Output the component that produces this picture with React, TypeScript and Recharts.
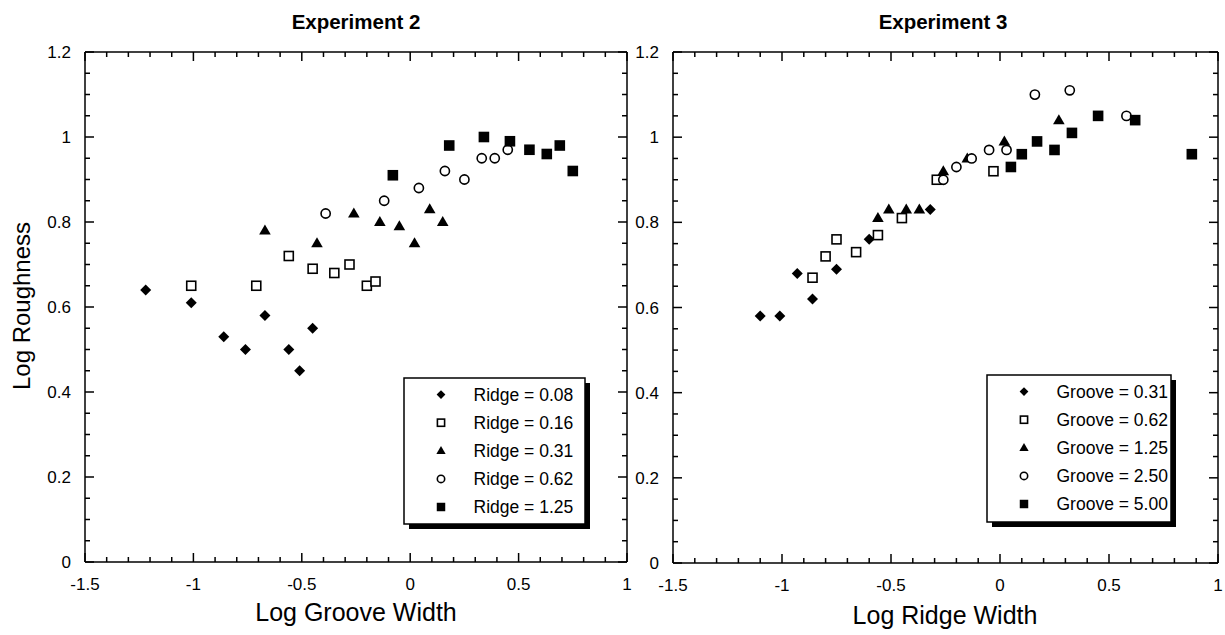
import { ScatterChart, Scatter, XAxis, YAxis } from 'recharts';

const FONT = '"Liberation Sans", Arial, Helvetica, sans-serif';

// Experiment 2: log roughness vs log groove width, one series per ridge width
const ridgeLabels = ['Ridge = 0.08', 'Ridge = 0.16', 'Ridge = 0.31', 'Ridge = 0.62', 'Ridge = 1.25'];
const ridge008 = [
  { x: -1.22, y: 0.64 }, { x: -1.01, y: 0.61 }, { x: -0.86, y: 0.53 }, { x: -0.76, y: 0.5 },
  { x: -0.67, y: 0.58 }, { x: -0.56, y: 0.5 }, { x: -0.51, y: 0.45 }, { x: -0.45, y: 0.55 },
];
const ridge016 = [
  { x: -1.01, y: 0.65 }, { x: -0.71, y: 0.65 }, { x: -0.56, y: 0.72 }, { x: -0.45, y: 0.69 },
  { x: -0.35, y: 0.68 }, { x: -0.28, y: 0.7 }, { x: -0.2, y: 0.65 }, { x: -0.16, y: 0.66 },
];
const ridge031 = [
  { x: -0.67, y: 0.78 }, { x: -0.43, y: 0.75 }, { x: -0.26, y: 0.82 }, { x: -0.14, y: 0.8 },
  { x: -0.05, y: 0.79 }, { x: 0.02, y: 0.75 }, { x: 0.09, y: 0.83 }, { x: 0.15, y: 0.8 },
];
const ridge062 = [
  { x: -0.39, y: 0.82 }, { x: -0.12, y: 0.85 }, { x: 0.04, y: 0.88 }, { x: 0.16, y: 0.92 },
  { x: 0.25, y: 0.9 }, { x: 0.33, y: 0.95 }, { x: 0.39, y: 0.95 }, { x: 0.45, y: 0.97 },
];
const ridge125 = [
  { x: -0.08, y: 0.91 }, { x: 0.18, y: 0.98 }, { x: 0.34, y: 1.0 }, { x: 0.46, y: 0.99 },
  { x: 0.55, y: 0.97 }, { x: 0.63, y: 0.96 }, { x: 0.69, y: 0.98 }, { x: 0.75, y: 0.92 },
];

// Experiment 3: log roughness vs log ridge width, one series per groove width
const grooveLabels = ['Groove = 0.31', 'Groove = 0.62', 'Groove = 1.25', 'Groove = 2.50', 'Groove = 5.00'];
const groove031 = [
  { x: -1.1, y: 0.58 }, { x: -1.01, y: 0.58 }, { x: -0.93, y: 0.68 }, { x: -0.86, y: 0.62 },
  { x: -0.75, y: 0.69 }, { x: -0.6, y: 0.76 }, { x: -0.32, y: 0.83 },
];
const groove062 = [
  { x: -0.86, y: 0.67 }, { x: -0.8, y: 0.72 }, { x: -0.75, y: 0.76 }, { x: -0.66, y: 0.73 },
  { x: -0.56, y: 0.77 }, { x: -0.45, y: 0.81 }, { x: -0.29, y: 0.9 }, { x: -0.03, y: 0.92 },
];
const groove125 = [
  { x: -0.56, y: 0.81 }, { x: -0.51, y: 0.83 }, { x: -0.43, y: 0.83 }, { x: -0.37, y: 0.83 },
  { x: -0.26, y: 0.92 }, { x: -0.15, y: 0.95 }, { x: 0.02, y: 0.99 }, { x: 0.27, y: 1.04 },
];
const groove250 = [
  { x: -0.26, y: 0.9 }, { x: -0.2, y: 0.93 }, { x: -0.13, y: 0.95 }, { x: -0.05, y: 0.97 },
  { x: 0.03, y: 0.97 }, { x: 0.16, y: 1.1 }, { x: 0.32, y: 1.11 }, { x: 0.58, y: 1.05 },
];
const groove500 = [
  { x: 0.05, y: 0.93 }, { x: 0.1, y: 0.96 }, { x: 0.17, y: 0.99 }, { x: 0.25, y: 0.97 },
  { x: 0.33, y: 1.01 }, { x: 0.45, y: 1.05 }, { x: 0.62, y: 1.04 }, { x: 0.88, y: 0.96 },
];

// axis ticks: labelled majors plus unlabelled minors
const xDomain: [number, number] = [-1.5, 1];
const yDomain: [number, number] = [0, 1.2];
const xTicks = Array.from({ length: 26 }, (_, i) => +(-1.5 + i * 0.1).toFixed(2));
const yTicks = Array.from({ length: 25 }, (_, i) => +(i * 0.05).toFixed(2));
const isMajorX = (v: number) => Math.abs(v * 2 - Math.round(v * 2)) < 1e-6;
const isMajorY = (v: number) => Math.abs(v * 5 - Math.round(v * 5)) < 1e-6;

type MarkerKind = 'diamond' | 'openSquare' | 'triangle' | 'circle' | 'square';
const markerKinds: MarkerKind[] = ['diamond', 'openSquare', 'triangle', 'circle', 'square'];

function Marker({ kind, cx, cy, s = 1 }: { kind: MarkerKind; cx: number; cy: number; s?: number }) {
  switch (kind) {
    case 'diamond': {
      const h = 5.5 * s;
      return <polygon points={`${cx},${cy - h} ${cx + h},${cy} ${cx},${cy + h} ${cx - h},${cy}`} fill="#000" />;
    }
    case 'openSquare': {
      const h = 4.5 * s;
      return <rect x={cx - h} y={cy - h} width={2 * h} height={2 * h} fill="#fff" stroke="#000" strokeWidth={1.6} />;
    }
    case 'triangle': {
      const w = 5.8 * s;
      return <polygon points={`${cx},${cy - 6 * s} ${cx + w},${cy + 4 * s} ${cx - w},${cy + 4 * s}`} fill="#000" />;
    }
    case 'circle':
      return <circle cx={cx} cy={cy} r={4.6 * s} fill="#fff" stroke="#000" strokeWidth={1.6} />;
    default: {
      const h = 5.3 * s;
      return <rect x={cx - h} y={cy - h} width={2 * h} height={2 * h} fill="#000" />;
    }
  }
}

const shapeFor = (kind: MarkerKind) => (p: any) => <Marker kind={kind} cx={p.cx} cy={p.cy} />;

const BottomTick = (p: any) => {
  const v = p.payload.value;
  const major = isMajorX(v);
  return (
    <g>
      <line x1={p.x} y1={p.y} x2={p.x} y2={p.y - (major ? 9 : 5)} stroke="#000" strokeWidth={1.5} />
      {major && (
        <text x={p.x} y={p.y + 28} textAnchor="middle" fontSize={17} fontFamily={FONT} fill="#000">
          {String(v)}
        </text>
      )}
    </g>
  );
};

const TopTick = (p: any) => {
  const major = isMajorX(p.payload.value);
  return <line x1={p.x} y1={p.y} x2={p.x} y2={p.y + (major ? 9 : 5)} stroke="#000" strokeWidth={1.5} />;
};

const LeftTick = (p: any) => {
  const v = p.payload.value;
  const major = isMajorY(v);
  return (
    <g>
      <line x1={p.x} y1={p.y} x2={p.x + (major ? 9 : 5)} y2={p.y} stroke="#000" strokeWidth={1.5} />
      {major && (
        <text x={p.x - 14} y={p.y + 6} textAnchor="end" fontSize={17} fontFamily={FONT} fill="#000">
          {String(v)}
        </text>
      )}
    </g>
  );
};

const RightTick = (p: any) => {
  const major = isMajorY(p.payload.value);
  return <line x1={p.x} y1={p.y} x2={p.x - (major ? 9 : 5)} y2={p.y} stroke="#000" strokeWidth={1.5} />;
};

const axisLine = { stroke: '#000', strokeWidth: 1.5 };

function Panel({
  width,
  margin,
  series,
}: {
  width: number;
  margin: { top: number; right: number; bottom: number; left: number };
  series: { x: number; y: number }[][];
}) {
  return (
    <ScatterChart width={width} height={635} margin={margin}>
      <XAxis
        xAxisId="b"
        type="number"
        dataKey="x"
        domain={xDomain}
        ticks={xTicks}
        interval={0}
        height={1}
        tickSize={0}
        tickMargin={0}
        tickLine={false}
        axisLine={axisLine}
        tick={BottomTick}
        allowDataOverflow
      />
      <XAxis
        xAxisId="t"
        orientation="top"
        type="number"
        dataKey="x"
        domain={xDomain}
        ticks={xTicks}
        interval={0}
        height={1}
        tickSize={0}
        tickMargin={0}
        tickLine={false}
        axisLine={axisLine}
        tick={TopTick}
        allowDataOverflow
      />
      <YAxis
        yAxisId="l"
        type="number"
        dataKey="y"
        domain={yDomain}
        ticks={yTicks}
        interval={0}
        width={1}
        tickSize={0}
        tickMargin={0}
        tickLine={false}
        axisLine={axisLine}
        tick={LeftTick}
        allowDataOverflow
      />
      <YAxis
        yAxisId="r"
        orientation="right"
        type="number"
        dataKey="y"
        domain={yDomain}
        ticks={yTicks}
        interval={0}
        width={1}
        tickSize={0}
        tickMargin={0}
        tickLine={false}
        axisLine={axisLine}
        tick={RightTick}
        allowDataOverflow
      />
      {series.map((data, i) => (
        <Scatter
          key={i}
          xAxisId="b"
          yAxisId="l"
          data={data}
          shape={shapeFor(markerKinds[i])}
          isAnimationActive={false}
        />
      ))}
    </ScatterChart>
  );
}

function LegendBox({ x, y, w, h, labels }: { x: number; y: number; w: number; h: number; labels: string[] }) {
  return (
    <g>
      <rect x={x + 5} y={y + 5} width={w} height={h} fill="#000" />
      <rect x={x} y={y} width={w} height={h} fill="#fff" stroke="#000" strokeWidth={1.5} />
      {labels.map((label, i) => {
        const cy = y + 16.6 + i * 28.1;
        return (
          <g key={label}>
            <Marker kind={markerKinds[i]} cx={x + 37} cy={cy} s={0.8} />
            <text x={x + 69.5} y={cy + 6} fontSize={17.5} fontFamily={FONT} fill="#000">
              {label}
            </text>
          </g>
        );
      })}
    </g>
  );
}

export default function App() {
  return (
    <div style={{ position: 'absolute', left: 0, top: 0, width: 1225, height: 635, background: '#fff' }}>
      <div style={{ position: 'absolute', left: 0, top: 0 }}>
        <Panel
          width={640}
          margin={{ top: 51, right: 12, bottom: 72, left: 84 }}
          series={[ridge008, ridge016, ridge031, ridge062, ridge125]}
        />
      </div>
      <div style={{ position: 'absolute', left: 600, top: 0 }}>
        <Panel
          width={625}
          margin={{ top: 51, right: 6, bottom: 71, left: 72 }}
          series={[groove031, groove062, groove125, groove250, groove500]}
        />
      </div>
      <svg
        width={1225}
        height={635}
        style={{ position: 'absolute', left: 0, top: 0, pointerEvents: 'none' }}
        fontFamily={FONT}
      >
        <text x={356} y={29} textAnchor="middle" fontSize={20.5} fontWeight="bold">
          Experiment 2
        </text>
        <text x={943} y={29} textAnchor="middle" fontSize={20.5} fontWeight="bold">
          Experiment 3
        </text>
        <text x={356} y={621} textAnchor="middle" fontSize={25}>
          Log Groove Width
        </text>
        <text x={945} y={624} textAnchor="middle" fontSize={25}>
          Log Ridge Width
        </text>
        <text x={30} y={306} textAnchor="middle" fontSize={24} transform="rotate(-90, 30, 306)">
          Log Roughness
        </text>
        <LegendBox x={404} y={378} w={181} h={146} labels={ridgeLabels} />
        <LegendBox x={987} y={375} w={184} h={147} labels={grooveLabels} />
      </svg>
    </div>
  );
}
